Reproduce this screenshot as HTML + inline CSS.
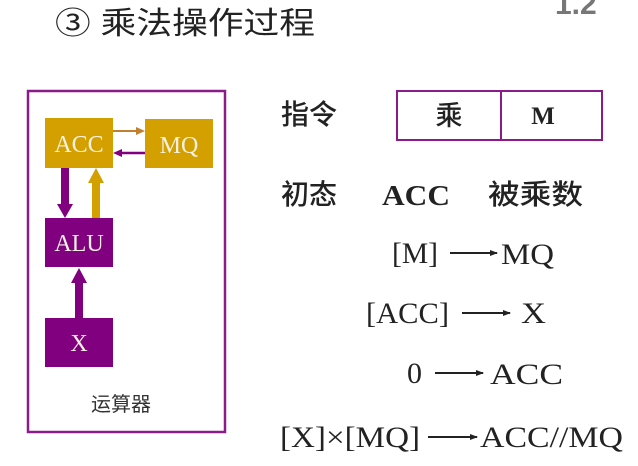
<!DOCTYPE html><html><head><meta charset="utf-8"><style>body{margin:0;background:#fff}svg{display:block}</style></head><body>
<svg width="638" height="466" viewBox="0 0 638 466" xmlns="http://www.w3.org/2000/svg" font-family="Liberation Serif, Noto Serif CJK SC, serif">
<defs>
<marker id="a" markerWidth="8" markerHeight="6" refX="7" refY="3" orient="auto" markerUnits="userSpaceOnUse"><path d="M0,0 L8,3 L0,6z" fill="#222"/></marker>
</defs>
<text x="55" y="34" font-size="31" font-family="Liberation Sans, Noto Sans CJK SC, sans-serif" fill="#222" textLength="260" lengthAdjust="spacingAndGlyphs">③ 乘法操作过程</text>
<text x="555" y="14" font-size="30" font-family="Liberation Sans, sans-serif" fill="#777" font-weight="bold">1.2</text>
<rect x="28" y="91" width="197" height="341" fill="none" stroke="#8b1a8b" stroke-width="2.5"/>
<rect x="45" y="118" width="68" height="50" fill="#d4a000"/>
<rect x="145" y="119" width="68" height="49" fill="#d4a000"/>
<rect x="45" y="218" width="68" height="49" fill="#800080"/>
<rect x="45" y="318" width="68" height="49" fill="#800080"/>
<g fill="#f4f0e0" font-size="24" text-anchor="middle"><text x="79" y="152">ACC</text><text x="179" y="153">MQ</text><text x="79" y="251">ALU</text><text x="79" y="351">X</text></g>
<text x="121" y="411" font-size="20" text-anchor="middle" font-family="Noto Sans CJK SC, sans-serif" fill="#333">运算器</text>
<line x1="113" y1="131" x2="138" y2="131" stroke="#c08030" stroke-width="2"/><path d="M136,127 L145,131 L136,135z" fill="#c08030"/>
<line x1="145" y1="153" x2="120" y2="153" stroke="#800080" stroke-width="2.5"/><path d="M122,149 L113,153 L122,157z" fill="#800080"/>
<rect x="61" y="168" width="8" height="38" fill="#800080"/><path d="M57,204 L73,204 L65,218z" fill="#800080"/>
<rect x="92" y="182" width="8" height="36" fill="#d4a000"/><path d="M88,183 L104,183 L96,168z" fill="#d4a000"/>
<rect x="75" y="282" width="8" height="36" fill="#800080"/><path d="M71,283 L87,283 L79,268z" fill="#800080"/>
<g font-family="Liberation Sans, Noto Sans CJK SC, sans-serif" font-size="28" font-weight="500" fill="#222"><text x="281" y="124">指令</text><text x="281" y="204">初态</text><text x="488" y="204" textLength="95" lengthAdjust="spacingAndGlyphs">被乘数</text></g>
<rect x="397" y="91" width="205" height="49" fill="none" stroke="#8b1a8b" stroke-width="2"/>
<line x1="501" y1="91" x2="501" y2="140" stroke="#8b1a8b" stroke-width="2"/>
<text x="449" y="125" font-size="27" font-weight="500" text-anchor="middle" font-family="Noto Sans CJK SC, sans-serif" fill="#222">乘</text>
<text x="543" y="124" font-size="25" text-anchor="middle" font-weight="bold" fill="#222">M</text>
<text x="382" y="205" font-size="28" font-weight="bold" fill="#222" textLength="68" lengthAdjust="spacingAndGlyphs">ACC</text>
<g font-size="30" fill="#222">
<text x="392" y="263" textLength="46" lengthAdjust="spacingAndGlyphs">[M]</text><line x1="450" y1="253" x2="497" y2="253" stroke="#222" stroke-width="2" marker-end="url(#a)"/><text x="501" y="264" textLength="53" lengthAdjust="spacingAndGlyphs">MQ</text>
<text x="366" y="323" textLength="83" lengthAdjust="spacingAndGlyphs">[ACC]</text><line x1="462" y1="313" x2="510" y2="313" stroke="#222" stroke-width="2" marker-end="url(#a)"/><text x="521" y="323" textLength="25" lengthAdjust="spacingAndGlyphs">X</text>
<text x="407" y="383">0</text><line x1="435" y1="373" x2="483" y2="373" stroke="#222" stroke-width="2" marker-end="url(#a)"/><text x="490" y="384" textLength="73" lengthAdjust="spacingAndGlyphs">ACC</text>
<text x="280" y="447" textLength="140" lengthAdjust="spacingAndGlyphs">[X]×[MQ]</text><line x1="428" y1="437" x2="477" y2="437" stroke="#222" stroke-width="2" marker-end="url(#a)"/><text x="480" y="447" textLength="143" lengthAdjust="spacingAndGlyphs">ACC//MQ</text>
</g>
</svg></body></html>
